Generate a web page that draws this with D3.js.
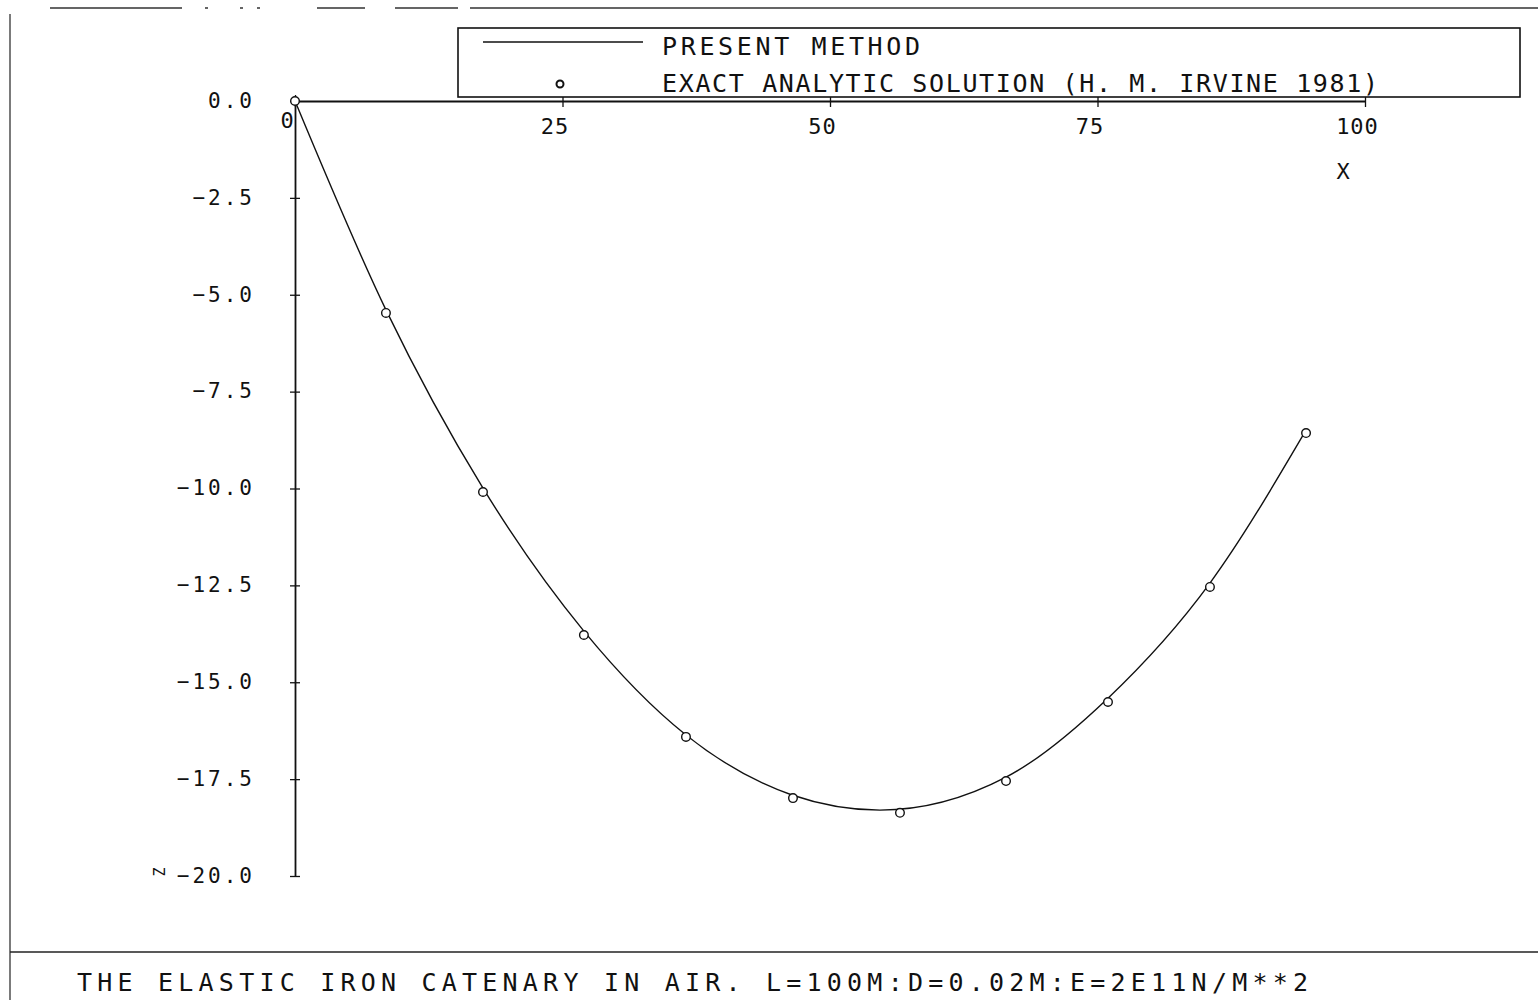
<!DOCTYPE html>
<html lang="en">
<head>
<meta charset="UTF-8">
<title>Elastic iron catenary</title>
<script src="https://d3js.org/d3.v7.min.js"></script>
<style>
  body { margin: 0; background: #fff; }
  svg { display: block; }
  text { font-family: "DejaVu Sans Mono", "Liberation Mono", monospace; fill: #111; }
</style>
</head>
<body>
<div id="chart"></div>
<script>
// ticks
const xTicks = [0, 25, 50, 75, 100];
const yTicks = [0, -2.5, -5, -7.5, -10, -12.5, -15, -17.5, -20];

// present method (solid line)
const lineX = [0, 8.5, 17.57, 27.0, 36.54, 46.45, 54.67, 66.45, 75.98, 85.51, 94.39];
const lineY = [0, -5.39, -9.99, -13.68, -16.36, -17.91, -18.30, -17.45, -15.41, -12.44, -8.54];

// exact analytic solution (circles)
const exactX = [0, 8.5, 17.57, 27.0, 36.54, 46.54, 56.54, 66.45, 75.98, 85.51, 94.49];
const exactY = [0, -5.47, -10.09, -13.78, -16.41, -17.99, -18.37, -17.55, -15.51, -12.54, -8.57];

const W = 1538, H = 1000;
const svg = d3.select("#chart").append("svg").attr("width", W).attr("height", H);

const x = d3.scaleLinear().domain([0, 100]).range([295, 1365]);
const y = d3.scaleLinear().domain([0, -20]).range([101, 876]);

// page frame (plotter sheet edges)
svg.append("line").attr("x1", 10).attr("x2", 10).attr("y1", 14).attr("y2", 1000)
  .attr("stroke", "#222").attr("stroke-width", 1.2);
svg.append("line").attr("x1", 50).attr("x2", W).attr("y1", 8).attr("y2", 8)
  .attr("stroke", "#333").attr("stroke-width", 1.6)
  .attr("stroke-dasharray", "132 23 3 32 3 14 3 57 48 30 63 12 2000");
svg.append("line").attr("x1", 10).attr("x2", W).attr("y1", 952).attr("y2", 952)
  .attr("stroke", "#222").attr("stroke-width", 1.5);

// x axis
const xAxis = svg.append("g")
  .attr("transform", `translate(0,${y(0)})`)
  .call(d3.axisBottom(x).tickValues(xTicks).tickSize(0).tickPadding(0).tickFormat(d => d === 0 ? "" : d));
xAxis.select(".domain").attr("stroke", "#111").attr("stroke-width", 1.8);
xAxis.selectAll(".tick line").attr("y1", -6).attr("y2", 6).attr("stroke", "#111").attr("stroke-width", 1.3);
xAxis.selectAll(".tick text").attr("y", 33).attr("dy", 0).attr("dx", -8)
  .style("font-size", "22px").style("letter-spacing", "1px").attr("fill", "#111");

svg.append("text").attr("x", 287).attr("y", 128).attr("text-anchor", "middle")
  .style("font-size", "22px").text("0");
svg.append("text").attr("x", 1343).attr("y", 179).attr("text-anchor", "middle")
  .style("font-size", "22px").text("X");

// y axis
const yAxis = svg.append("g")
  .attr("transform", `translate(${x(0)},0)`)
  .call(d3.axisLeft(y).tickValues(yTicks).tickSize(0).tickPadding(0).tickFormat(d3.format(".1f")));
yAxis.select(".domain").attr("stroke", "#111").attr("stroke-width", 1.8);
yAxis.selectAll(".tick line").attr("x1", -5).attr("x2", 5).attr("stroke", "#111").attr("stroke-width", 1.3);
yAxis.selectAll(".tick text").attr("x", -40).attr("dy", "0.3em")
  .style("font-size", "21px").style("letter-spacing", "3px").attr("fill", "#222");

svg.append("text").attr("transform", "translate(160,872) rotate(-90)")
  .attr("text-anchor", "middle").attr("dy", "0.35em")
  .style("font-size", "15px").attr("fill", "#555").text("Z");

// present method curve
const linePts = lineX.map((v, i) => [v, lineY[i]]);
svg.append("path")
  .datum(linePts)
  .attr("fill", "none").attr("stroke", "#111").attr("stroke-width", 1.4)
  .attr("d", d3.line().x(d => x(d[0])).y(d => y(d[1])).curve(d3.curveMonotoneX));

// exact solution markers
const exactPts = exactX.map((v, i) => [v, exactY[i]]);
svg.append("g").selectAll("circle")
  .data(exactPts).enter().append("circle")
  .attr("cx", d => x(d[0])).attr("cy", d => y(d[1])).attr("r", 4.3)
  .attr("fill", "#fff").attr("stroke", "#111").attr("stroke-width", 1.4);

// legend
const lg = svg.append("g");
lg.append("rect").attr("x", 458).attr("y", 28).attr("width", 1062).attr("height", 69)
  .attr("fill", "#fff").attr("stroke", "#111").attr("stroke-width", 1.6);
lg.append("line").attr("x1", 483).attr("x2", 643).attr("y1", 42).attr("y2", 42)
  .attr("stroke", "#111").attr("stroke-width", 1.4);
lg.append("circle").attr("cx", 560).attr("cy", 84).attr("r", 3.5)
  .attr("fill", "#fff").attr("stroke", "#111").attr("stroke-width", 2);
lg.append("text").attr("x", 662).attr("y", 55)
  .attr("textLength", 258).attr("lengthAdjust", "spacing")
  .style("font-size", "25px").text("PRESENT METHOD");
lg.append("text").attr("x", 662).attr("y", 92)
  .attr("textLength", 716).attr("lengthAdjust", "spacing")
  .style("font-size", "25px").text("EXACT ANALYTIC SOLUTION (H. M. IRVINE 1981)");

// caption
svg.append("text").attr("x", 77).attr("y", 991)
  .attr("textLength", 1231).attr("lengthAdjust", "spacing")
  .style("font-size", "25px").attr("fill", "#222")
  .text("THE ELASTIC IRON CATENARY IN AIR.  L=100M:D=0.02M:E=2E11N/M**2");
</script>
</body>
</html>
